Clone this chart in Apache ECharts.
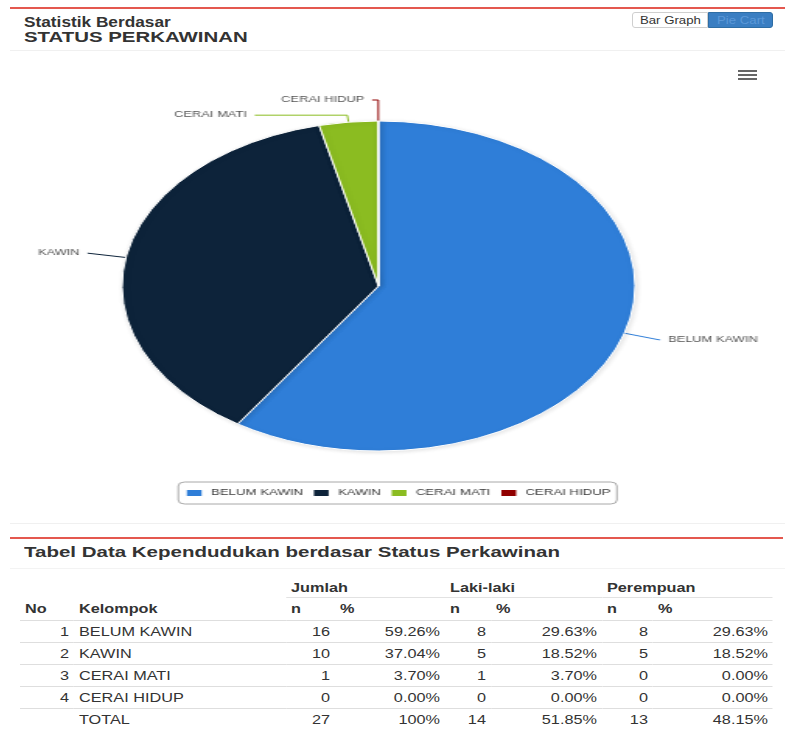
<!DOCTYPE html>
<html><head><meta charset="utf-8">
<script src="https://cdn.jsdelivr.net/npm/echarts@6/dist/echarts.min.js"></script>
<style>
body{margin:0;background:#fff;font-family:"Liberation Sans",Arial,sans-serif;color:#333;width:795px;height:731px;overflow:hidden;position:relative}
.abs{position:absolute}
.ttl{position:absolute;left:24px;font-weight:bold;font-size:15px;line-height:15px;color:#333;transform-origin:0 0;white-space:nowrap}
.btn{position:absolute;top:12px;height:16px;display:flex;align-items:center;justify-content:center;font-size:11px;box-sizing:border-box}
.btn span{display:inline-block;transform:scaleX(1.2);white-space:nowrap}
#tbl{position:absolute;left:20px;top:576px;transform:scaleX(1.25);transform-origin:0 0}
#tbl table{border-collapse:collapse;font-size:13px;color:#333;table-layout:fixed}
#tbl td,#tbl th{padding:0 4px;white-space:nowrap;vertical-align:middle}
#tbl th{text-align:left;font-weight:bold}
#tbl td{text-align:right}
#tbl td.kel{text-align:left}
#tbl tbody tr{height:22px}
#tbl tbody td{border-top:1px solid #dedede}
#tbl th.grp{border-bottom:1px solid #e2e2e2;padding-top:3px}
</style></head><body>
<div class="abs" style="left:10px;top:7px;width:775px;height:2px;background:#e4584f"></div>
<div class="ttl" style="top:14px;transform:scaleX(1.15)">Statistik Berdasar</div>
<div class="ttl" style="top:29px;transform:scaleX(1.36)">STATUS PERKAWINAN</div>
<div class="btn" style="left:632px;width:76px;border:1px solid #cfcfcf;border-radius:3px 0 0 3px;background:#fff;color:#333"><span>Bar Graph</span></div>
<div class="btn" style="left:708px;width:65px;border:1px solid #2e6da4;border-radius:0 3px 3px 0;background:#3a7ec2;color:#5a98d8"><span>Pie Cart</span></div>
<div class="abs" style="left:10px;top:50px;width:775px;height:1px;background:#f0f0f0"></div>
<div class="abs" style="left:738px;top:70px;width:19px;height:2px;background:#666"></div>
<div class="abs" style="left:738px;top:74px;width:19px;height:2px;background:#666"></div>
<div class="abs" style="left:738px;top:78px;width:19px;height:2px;background:#666"></div>
<div id="pie" class="abs" style="left:10px;top:50px;width:498px;height:470px;transform:scaleX(1.555);transform-origin:0 0"></div>
<div class="abs" style="left:10px;top:523px;width:775px;height:1px;background:#f0f0f0"></div>
<div class="abs" style="left:10px;top:537px;width:773px;height:2px;background:#e4584f"></div>
<div class="ttl" style="top:544px;line-height:16px;transform:scaleX(1.366)">Tabel Data Kependudukan berdasar Status Perkawinan</div>
<div class="abs" style="left:10px;top:568px;width:775px;height:1px;background:#f3f3f3"></div>
<div id="tbl"></div>
<script>
// ---- data ----
const categories = ['BELUM KAWIN', 'KAWIN', 'CERAI MATI', 'CERAI HIDUP'];
const jumlahN = [16, 10, 1, 0];
const jumlahPct = ['59.26%', '37.04%', '3.70%', '0.00%'];
const lakiN = [8, 5, 1, 0];
const lakiPct = ['29.63%', '18.52%', '3.70%', '0.00%'];
const perempuanN = [8, 5, 0, 0];
const perempuanPct = ['29.63%', '18.52%', '0.00%', '0.00%'];
const totalRow = ['TOTAL', 27, '100%', 14, '51.85%', 13, '48.15%'];
const groupHeaders = ['Jumlah', 'Laki-laki', 'Perempuan'];
const subHeaders = ['No', 'Kelompok', 'n', '%', 'n', '%', 'n', '%'];

// ---- styling (not data) ----
const sliceColors = ['#2f7ed8', '#0d233a', '#8bbc21', '#910000'];
const lineTweaks = [
  {length: 23, length2: 1},
  {length: 25, length2: 0},
  {length: 7, length2: 59.5},
  {length: 21, length2: 4}
];

const chart = echarts.init(document.getElementById('pie'), null, {renderer: 'canvas'});
chart.setOption({
  animation: false,
  color: sliceColors,
  legend: {
    data: categories,
    left: 'center',
    top: 432,
    orient: 'horizontal',
    icon: 'rect',
    itemWidth: 11.5,
    itemHeight: 8,
    itemGap: 5,
    padding: [6, 4, 6, 3.5],
    borderColor: '#a8a8a8',
    borderWidth: 1,
    borderRadius: 4,
    selectedMode: false,
    textStyle: {fontSize: 8.5, color: '#3a3a3a', fontFamily: 'Liberation Sans'}
  },
  series: [{
    type: 'pie',
    center: [237, 236],
    radius: 165,
    startAngle: 90.05,
    clockwise: true,
    avoidLabelOverlap: false,
    label: {
      show: true, position: 'outside', formatter: '{b}',
      fontSize: 8.3, color: '#555', fontFamily: 'Liberation Sans',
      distanceToLabelLine: 5
    },
    labelLine: {show: true, length: 24, length2: 1, lineStyle: {width: 1}},
    itemStyle: {
      borderColor: '#fff', borderWidth: 1,
      shadowBlur: 4, shadowColor: 'rgba(0,0,0,0.12)', shadowOffsetX: 1, shadowOffsetY: 1
    },
    emphasis: {disabled: true},
    data: categories.map((c, i) => ({name: c, value: jumlahN[i], labelLine: lineTweaks[i]}))
  }]
});

// ---- table ----
const colW = [43.2, 169.6, 39.2, 88, 36.8, 88.8, 40.8, 96];
let html = '<table><colgroup>' + colW.map(w => '<col style="width:' + w + 'px">').join('') + '</colgroup>';
html += '<thead><tr style="height:21px"><th colspan="2"></th>' +
  groupHeaders.map(g => '<th class="grp" colspan="2">' + g + '</th>').join('') + '</tr>';
html += '<tr style="height:23px">' + subHeaders.map(h => '<th>' + h + '</th>').join('') + '</tr></thead><tbody>';
categories.forEach((c, i) => {
  html += '<tr><td>' + (i + 1) + '</td><td class="kel">' + c + '</td><td>' + jumlahN[i] + '</td><td>' + jumlahPct[i] +
    '</td><td>' + lakiN[i] + '</td><td>' + lakiPct[i] + '</td><td>' + perempuanN[i] + '</td><td>' + perempuanPct[i] + '</td></tr>';
});
html += '<tr><td></td><td class="kel">' + totalRow[0] + '</td>' + totalRow.slice(1).map(v => '<td>' + v + '</td>').join('') + '</tr>';
html += '</tbody></table>';
document.getElementById('tbl').innerHTML = html;
</script>
</body></html>
